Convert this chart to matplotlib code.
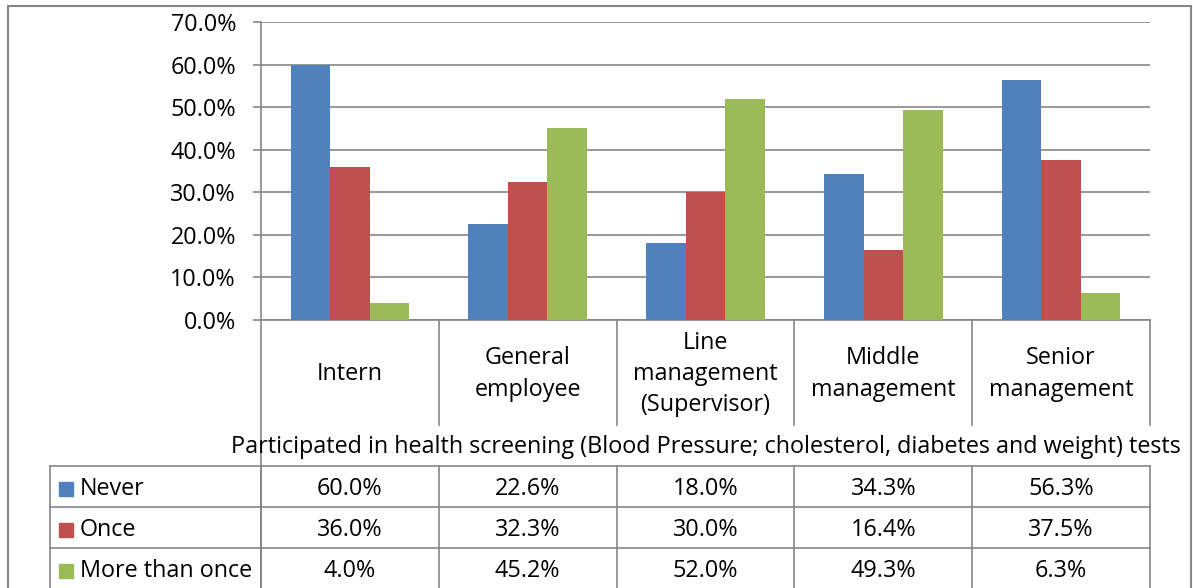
import numpy as np
import matplotlib.pyplot as plt
from matplotlib.lines import Line2D
from matplotlib.patches import Rectangle

categories = ["Intern", "General\nemployee", "Line\nmanagement\n(Supervisor)",
              "Middle\nmanagement", "Senior\nmanagement"]
series = ["Never", "Once", "More than once"]
never = [60.0, 22.6, 18.0, 34.3, 56.3]
once = [36.0, 32.3, 30.0, 16.4, 37.5]
more_than_once = [4.0, 45.2, 52.0, 49.3, 6.3]
colors = ["#4F81BD", "#C0504D", "#9BBB59"]
axis_title = "Participated in health screening (Blood Pressure; cholesterol, diabetes and weight) tests"

W, H = 1193, 588
plt.rcParams['font.family'] = ['Open Sans', 'DejaVu Sans']
FS = 16.8
GRAY = "#868686"


def fx(x):
    return x / W


def fy(y):
    return 1 - y / H


fig = plt.figure(figsize=(W / 100, H / 100), dpi=100)

# plot area in pixels
L, R, T, B = 261, 1150, 22, 320
ax = fig.add_axes([fx(L), fy(B), fx(R - L), fy(T) - fy(B)])

values = [never, once, more_than_once]
n = len(categories)
x = np.arange(n)
bw = 1 / 4.5
for i, (vals, name) in enumerate(zip(values, series)):
    ax.bar(x + (i - 1) * bw, vals, bw, color=colors[i], label=name, zorder=3)

ax.set_xlim(-0.5, n - 0.5)
ax.set_ylim(0, 70)
ax.set_yticks(np.arange(0, 71, 10))
ax.set_yticklabels([f"{v:.1f}%" for v in np.arange(0, 71, 10)])
ax.set_xticks([])
ax.yaxis.grid(True, color=GRAY, lw=1.2, zorder=0)
ax.tick_params(axis='y', length=6, width=1.2, color=GRAY, pad=12, labelsize=FS)
for s in ["top", "right"]:
    ax.spines[s].set_visible(False)
for s in ["left", "bottom"]:
    ax.spines[s].set_color(GRAY)
    ax.spines[s].set_linewidth(1.2)

# outer chart border
fig.add_artist(Rectangle((fx(8), fy(600)), fx(1191 - 8), fy(6) - fy(600),
                         transform=fig.transFigure, fill=False, ec=GRAY, lw=1.5))


def vline(xp, y0, y1):
    fig.add_artist(Line2D([fx(xp), fx(xp)], [fy(y0), fy(y1)], color=GRAY, lw=1.2,
                          transform=fig.transFigure))


def hline(x0, x1, yp):
    fig.add_artist(Line2D([fx(x0), fx(x1)], [fy(yp), fy(yp)], color=GRAY, lw=1.2,
                          transform=fig.transFigure))


bounds = [L + k * (R - L) / n for k in range(n + 1)]
# category label area
vline(L, B, 590)
for b in bounds[1:]:
    vline(b, B, 425)
for k, cat in enumerate(categories):
    cx = (bounds[k] + bounds[k + 1]) / 2
    fig.text(fx(cx), fy(374), cat, ha='center', va='center', fontsize=FS,
             linespacing=1.4)

fig.text(fx((L + R) / 2), fy(447), axis_title, ha='center', va='center', fontsize=FS)

# data table
TL, rows = 50, [466, 507, 548, 589]
for yp in rows:
    hline(TL, R, yp)
vline(TL, rows[0], 590)
for b in bounds:
    vline(b, rows[0], 590)
for r, (vals, name) in enumerate(zip(values, series)):
    yc = (rows[r] + rows[r + 1]) / 2
    ty = yc + 2.5
    fig.add_artist(Rectangle((fx(59), fy(ty + 7)), fx(14), fy(ty - 7) - fy(ty + 7),
                             transform=fig.transFigure, color=colors[r]))
    fig.text(fx(80), fy(ty), name, ha='left', va='center', fontsize=FS)
    for k, v in enumerate(vals):
        cx = (bounds[k] + bounds[k + 1]) / 2
        fig.text(fx(cx), fy(ty), f"{v:.1f}%", ha='center', va='center', fontsize=FS)

fig.savefig("out.png", dpi=100)
